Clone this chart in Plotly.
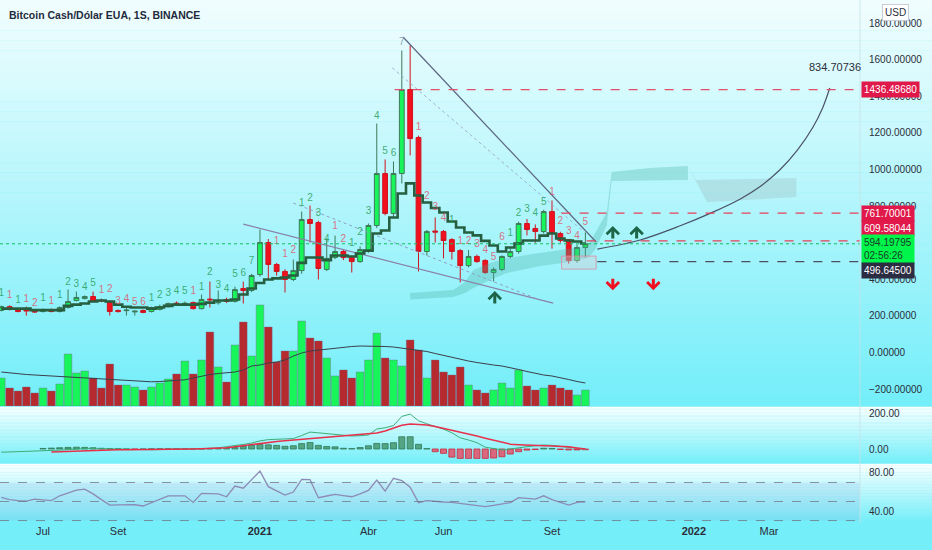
import plotly.graph_objects as go
import pandas as pd

# ---------------- data ----------------
start_week = "2020-06-01"
n_weeks = 71
dates = pd.date_range(start_week, periods=n_weeks, freq="7D")

opens = [230,251,235,232,226,224,235,224,246,284,295,306,286,279,230,229,222,230,224,235,
         251,270,265,273,240,292,272,290,279,350,339,426,601,481,443,399,448,727,710,454,
         519,552,525,497,552,694,978,760,978,1437,1175,552,664,661,617,557,475,525,503,437,
         454,525,552,705,678,661,770,650,617,503,574]
highs = [256,258,240,251,232,240,240,252,344,333,312,333,295,284,235,246,232,235,251,262,
         273,279,279,279,317,388,339,300,360,388,430,672,620,490,455,508,770,803,720,623,
         639,565,530,580,705,1251,1055,1044,1650,1678,1185,670,738,670,625,565,560,535,510,465,
         530,570,715,730,700,780,831,660,620,590,656]
lows = [225,230,220,202,218,219,220,219,240,280,290,275,275,202,218,202,202,215,219,230,
        246,257,255,235,235,246,262,270,273,268,330,415,399,420,328,390,430,601,399,445,
        510,505,437,490,545,680,750,740,924,1077,443,530,601,514,508,383,465,490,430,388,
        445,515,540,640,600,650,568,600,486,490,519]
closes = [251,235,224,228,222,235,224,246,279,301,306,279,283,224,224,232,226,219,246,251,
          268,266,269,240,290,288,276,279,344,339,421,601,481,443,399,448,727,705,459,514,
          552,519,497,563,694,978,760,978,1437,1169,552,661,658,612,552,475,525,497,437,454,
          525,552,705,672,661,770,650,612,503,574,594.19795]
volume_k = [280,180,150,190,130,180,150,220,520,330,350,280,180,420,210,210,190,160,190,230,
            270,320,450,320,460,740,390,240,610,840,500,1010,790,440,550,550,850,680,650,480,
            300,360,280,340,460,730,480,460,400,660,560,280,460,340,310,390,210,160,130,160,
            230,180,360,200,160,180,210,180,160,110,160]
volume_ma_k = [340,330,320,315,310,305,300,295,290,285,280,278,275,272,262,255,250,245,242,245,
               250,255,262,280,300,315,325,330,340,360,400,410,430,440,460,500,530,550,560,570,
               580,590,595,600,600,600,595,590,580,570,560,545,525,505,485,465,450,435,420,410,
               400,385,365,345,325,310,300,285,265,245,230]
trail_stop = [240,240,240,240,232,232,232,232,255,262,268,279,284,279,262,250,246,246,240,246,
              255,262,262,262,266,273,284,284,290,317,350,380,399,405,410,421,490,519,519,505,
              530,530,525,541,557,650,667,738,869,924,858,820,790,765,716,683,656,640,610,585,
              552,574,596,612,612,639,650,623,612,607,596]
macd_line = [-18,-17,-16,-15,-13,-10,-8,-6,-2,0,2,2,1,-2,-4,-5,-5,-5,-4,-3,
             -1,0,1,1,2,4,6,13,18,25,33,45,52,55,55,58,75,94,90,85,
             83,78,72,74,78,111,118,130,181,194,157,140,125,110,90,62,50,35,10,3,
             -5,0,8,13,18,22,20,15,8,2,-2]
macd_signal = [None,None,None,None,None,None,-17,-15,-13,-10,-8,-6,-5,-4,-4,-4,-4,-4,-4,-3,
               -2,-1,0,0,1,2,3,7,12,18,25,33,38,42,46,50,54,58,62,66,
               70,74,77,80,84,89,100,116,132,139,138,133,125,115,105,96,85,72,60,50,
               38,27,24,21,19,18,17,15,12,6,0]
macd_hist = [None,None,None,None,None,3,5,7,9,10,9,7,4,2,1,0,-1,0,1,1,
             1,1,1,0,1,2,3,4,8,14,20,25,23,20,15,18,30,36,20,14,
             12,4,2,8,18,31,30,35,68,68,26,2,-15,-24,-45,-52,-52,-52,-52,-50,
             -43,-28,-15,-6,-3,4,3,-3,-5,-5,-4]
rsi = [54.4,52,51,50.5,52.6,52,51,56,59,62,63,58,52,46.3,46.5,46.6,46.6,45.3,49,52,
       56,56,56,49,58.6,58.3,58,55,66.3,64,73,82,65.6,61,56.8,60,73.3,73,54,55.8,
       57.6,56.3,55,58,61.7,72.6,61,74.4,72,65,48.8,51,50,49.5,49,48,47,46.3,44.6,46,
       47.5,48.8,54,53,52.6,56,52,49,46.3,49,49.7]

# TD sequential counts: (candle index 1-based, text, colour key, label price)
td_idx = [1,2,3,4,5,6,7,8,9,10,11,12,13,14,15,16,17,18,19,20,21,22,23,24,25,26,27,28,29,30,31,
          34,35,36,37,38,39,40,41,42,43,44,45,46,47,48,49,51,52,53,54,55,56,57,58,59,60,61,
          62,63,64,65,66,67,68,69,70,71]
td_txt = ["1","1","1","1","2","1","1","1","2","3","4","5","1","2","3","4","5","6","1","2","3","4","5","1",
          "1","2","3","4","5","6","7","1","1","2","1","2","3","4","1","2","1","2","3","4","5","6","7",
          "1","2","3","4","1","1","2","3","4","5","6","1","2","3","4","5","1","2","3","4","5"]
td_col = ["g","r","g","r","r","g","r","g","g","g","g","g","r","r","r","r","r","r","g","g","g","g","g","r",
          "g","g","g","g","g","g","g","r","r","r","g","g","g","g","r","r","g","g","g","g","g","g","n",
          "r","r","r","r","g","r","r","r","r","r","r","g","g","g","g","g","r","r","r","r","r"]
td_price = [325,309,287,292,270,298,281,309,383,372,355,377,339,344,281,292,276,276,298,314,
            325,336,331,331,358,440,369,347,429,434,500,609,538,555,817,844,762,620,691,620,
            598,658,773,1292,1101,1090,1692,1232,855,790,730,719,609,609,593,560,522,626,
            653,762,779,762,822,874,716,661,634,710]

# horizontal levels and drawings
level_top = 1436.48680
level_r1 = 761.70001
level_r2 = 609.58044
last_price = 594.19795
level_s1 = 496.64500
trend_dark_x = ["2021-05-04", "2021-10-13"]; trend_dark_y = [1724, 604]
trend_thin_x = ["2021-04-25", "2021-10-03"]; trend_thin_y = [1555, 658]
trend_low_x = ["2020-12-21", "2021-09-07"]; trend_low_y = [702, 270]
trend_dot_x = ["2021-02-01", "2021-08-27"]; trend_dot_y = [817, 287]
curve_x = ["2021-10-14","2021-11-19","2021-12-22","2022-01-19","2022-02-11","2022-02-27",
           "2022-03-16","2022-03-31","2022-04-13","2022-04-21","2022-04-27"]
curve_y = [565,615,691,767,839,904,997,1107,1232,1336,1445]
cloud_a_x = ["2021-05-10","2021-06-15","2021-06-25","2021-07-02","2021-07-16","2021-07-30","2021-08-27",
             "2021-09-21","2021-10-06","2021-10-16","2021-10-22","2021-10-26","2021-11-27","2021-12-29",
             "2021-12-29","2021-10-26","2021-10-22","2021-10-12","2021-10-06","2021-09-21","2021-08-27",
             "2021-07-30","2021-07-16","2021-07-02","2021-06-25","2021-06-15","2021-05-10"]
cloud_a_y = [325,342,385,451,489,516,544,566,582,697,767,986,1008,1019,942,937,697,560,516,495,473,
             434,396,352,325,303,290]
cloud_b_x = ["2021-12-30","2022-01-05","2022-03-30","2022-03-30","2022-01-14"]
cloud_b_y = [1008,942,953,850,821]
box_x = ["2021-09-14", "2021-10-13"]; box_y = [456, 527]
up_arrows_x = ["2021-07-20", "2021-10-27", "2021-11-16"]; up_arrows_y = [336, 691, 691]
down_arrows_x = ["2021-10-27", "2021-11-30"]; down_arrows_y = [341, 341]
tick_dates = ["2020-07-06","2020-09-07","2021-01-04","2021-04-05","2021-06-07","2021-09-06","2022-01-03","2022-03-07"]
tick_text = ["Jul","Set","<b>2021</b>","Abr","Jun","Set","<b>2022</b>","Mar"]
price_ticks = [-200,0,200,400,800,1000,1200,1400,1600,1800]

# ---------------- layout geometry ----------------
W, H = 932, 550
R = 72
B = 27
PH = H - B
def dom(top, bot):
    return [(PH - bot) / PH, (PH - top) / PH]

FONT = "Liberation Sans"
GREEN = "#17f55a"
RED = "#f2101f"
x_range = ["2020-05-30 22:00", "2022-05-22 09:00"]

fig = go.Figure()

# volume (overlay axis)
vol_col = [GREEN if c >= o else "#b52a2e" for o, c in zip(opens, closes)]
fig.add_trace(go.Bar(x=dates, y=volume_k, marker=dict(color=vol_col, line=dict(color="rgba(120,100,140,0.55)", width=0.7)),
                     xaxis="x", yaxis="y4", hoverinfo="skip"))
fig.add_trace(go.Scatter(x=dates, y=volume_ma_k, mode="lines", line=dict(color="#3b3f4a", width=1),
                         xaxis="x", yaxis="y4", hoverinfo="skip"))

# cloud
fig.add_trace(go.Scatter(x=cloud_a_x, y=cloud_a_y, fill="toself", mode="lines", line=dict(width=0),
                         fillcolor="rgba(70,175,160,0.30)", xaxis="x", yaxis="y", hoverinfo="skip"))
fig.add_trace(go.Scatter(x=cloud_b_x, y=cloud_b_y, fill="toself", mode="lines", line=dict(width=0),
                         fillcolor="rgba(150,175,175,0.28)", xaxis="x", yaxis="y", hoverinfo="skip"))

# trend lines
fig.add_trace(go.Scatter(x=trend_low_x, y=trend_low_y, mode="lines", line=dict(color="#8a80a8", width=1.2), xaxis="x", yaxis="y"))
fig.add_trace(go.Scatter(x=trend_dot_x, y=trend_dot_y, mode="lines", line=dict(color="#8fa0c8", width=1, dash="dot"), xaxis="x", yaxis="y"))
fig.add_trace(go.Scatter(x=trend_thin_x, y=trend_thin_y, mode="lines", line=dict(color="#9fb0d0", width=1, dash="dot"), xaxis="x", yaxis="y"))
fig.add_trace(go.Scatter(x=trend_dark_x, y=trend_dark_y, mode="lines", line=dict(color="#5c6680", width=1.2), xaxis="x", yaxis="y"))
fig.add_trace(go.Scatter(x=curve_x, y=curve_y, mode="lines", line=dict(color="#4a5266", width=1.2, shape="spline"), xaxis="x", yaxis="y"))

# trailing step line
fig.add_trace(go.Scatter(x=dates, y=trail_stop, mode="lines", line=dict(color="#265f40", width=2.6, shape="hvh"), xaxis="x", yaxis="y"))

# candles
fig.add_trace(go.Candlestick(x=dates, open=opens, high=highs, low=lows, close=closes,
                             increasing=dict(line=dict(color="#3d7a5a", width=1), fillcolor=GREEN),
                             decreasing=dict(line=dict(color="#d0141f", width=1), fillcolor=RED),
                             whiskerwidth=0, xaxis="x", yaxis="y", hoverinfo="skip"))

# TD counts
cmap = {"g": "rgba(40,160,90,0.85)", "r": "rgba(225,80,100,0.8)", "n": "rgba(130,150,170,0.9)"}
fig.add_trace(go.Scatter(x=[dates[i - 1] for i in td_idx], y=td_price, mode="text", text=td_txt,
                         textfont=dict(family=FONT, size=10, color=[cmap[c] for c in td_col]),
                         xaxis="x", yaxis="y", hoverinfo="skip"))

# MACD
hist_col = ["rgba(70,150,110,0.85)" if (h or 0) >= 0 else "rgba(232,80,105,0.85)" for h in macd_hist]
hist_line = ["#2f7a55" if (h or 0) >= 0 else "#c8283e" for h in macd_hist]
fig.add_trace(go.Bar(x=dates, y=macd_hist, marker=dict(color=hist_col, line=dict(color=hist_line, width=0.8)),
                     width=6 * 86400000 * 0.84, xaxis="x2", yaxis="y2", hoverinfo="skip"))
fig.add_trace(go.Scatter(x=dates, y=macd_line, mode="lines", line=dict(color="#3cae78", width=1), xaxis="x2", yaxis="y2"))
fig.add_trace(go.Scatter(x=dates, y=macd_signal, mode="lines", line=dict(color="#e8304c", width=1.5), xaxis="x2", yaxis="y2"))

# RSI
fig.add_trace(go.Scatter(x=dates, y=rsi, mode="lines", line=dict(color="#8c8cb4", width=1.3), xaxis="x3", yaxis="y3"))

shapes = []
def gradient(top, bot, c0, c1, n=40):
    for k in range(n):
        t = k / (n - 1)
        col = tuple(int(round(c0[j] + (c1[j] - c0[j]) * t)) for j in range(3))
        y_top = top + (bot - top) * k / n
        y_bot = top + (bot - top) * (k + 1) / n
        shapes.append(dict(type="rect", xref="paper", yref="paper", x0=0, x1=W / (W - R),
                           y0=(PH - y_bot) / PH, y1=(PH - y_top) / PH + 0.0005,
                           fillcolor="rgb(%d,%d,%d)" % col, line=dict(width=0), layer="below"))
gradient(0, 406, (240, 253, 254), (116, 238, 249))
gradient(407, 463, (250, 255, 255), (118, 239, 249))
gradient(464, 523, (250, 255, 255), (116, 238, 249))

# RSI band and guides
shapes.append(dict(type="rect", xref="paper", yref="y3", x0=0, x1=1, y0=30, y1=70,
                   fillcolor="rgba(120,140,210,0.14)", line=dict(width=0), layer="below"))
for lv in (30, 50, 70):
    shapes.append(dict(type="line", xref="paper", yref="y3", x0=0, x1=1, y0=lv, y1=lv,
                       line=dict(color="rgba(110,115,130,0.75)", width=1, dash="dash")))
# price levels
shapes.append(dict(type="line", xref="paper", yref="y", x0=0, x1=1, y0=last_price, y1=last_price,
                   line=dict(color="#14c060", width=1, dash="dot")))
shapes.append(dict(type="line", xref="x", yref="y", x0="2021-04-27", x1="2022-07-01", y0=level_top, y1=level_top,
                   line=dict(color="#e0506a", width=1.2, dash="dash")))
shapes.append(dict(type="line", xref="x", yref="y", x0="2021-09-14", x1="2022-07-01", y0=level_r1, y1=level_r1,
                   line=dict(color="#e8405a", width=1.2, dash="dash")))
shapes.append(dict(type="line", xref="x", yref="y", x0="2021-10-05", x1="2022-07-01", y0=level_r2, y1=level_r2,
                   line=dict(color="#e8405a", width=1.2, dash="dash")))
shapes.append(dict(type="line", xref="x", yref="y", x0="2021-10-14", x1="2022-07-01", y0=level_s1, y1=level_s1,
                   line=dict(color="#4a4e5e", width=1.2, dash="dash")))
shapes.append(dict(type="rect", xref="x", yref="y", x0=box_x[0], x1=box_x[1], y0=box_y[0], y1=box_y[1],
                   fillcolor="rgba(220,200,210,0.35)", line=dict(color="rgba(220,140,160,0.8)", width=1)))
# right axis separator
shapes.append(dict(type="line", xref="paper", yref="paper", x0=1, x1=1, y0=0, y1=1,
                   line=dict(color="rgba(200,225,230,0.8)", width=1)))

annotations = []
annotations.append(dict(xref="paper", yref="paper", x=0.008, y=(PH - 15) / PH, xanchor="left", yanchor="middle",
                        text="<b>Bitcoin Cash/Dólar EUA, 1S, BINANCE</b>", showarrow=False,
                        font=dict(family=FONT, size=10.5, color="#1f2a3c")))
annotations.append(dict(xref="paper", yref="paper", x=895 / (W - R), y=(PH - 12) / PH, xanchor="center", yanchor="middle",
                        text="USD", showarrow=False, bgcolor="white", bordercolor="#c8ccd4", borderwidth=1, borderpad=2,
                        font=dict(family=FONT, size=10, color="#2a2e39")))
annotations.append(dict(xref="x", yref="y", x="2022-05-01", y=1560, text="834.70736", showarrow=False,
                        font=dict(family=FONT, size=11, color="#2a2e39")))

def price_label(yv, text, bg, fg):
    annotations.append(dict(xref="paper", yref="y", x=1.0 + 1 / (W - R), y=yv, xanchor="left", yanchor="middle",
                            text=text, showarrow=False, bgcolor=bg, borderpad=2, align="left",
                            font=dict(family=FONT, size=10, color=fg)))
price_label(level_top, "1436.48680", "#e0194a", "white")
price_label(level_r1, "761.70001", "#e0194a", "white")
price_label(680, "609.58044", "#e0194a", "white")
price_label(563, "594.19795<br>02:56:26", "#00f54a", "#1b3b2b")
price_label(451, "496.64500", "#2c2c42", "white")

for ax_, ay_ in zip(up_arrows_x, up_arrows_y):
    annotations.append(dict(xref="x", yref="y", x=ax_, y=ay_, ax=0, ay=14, text="", showarrow=True,
                            arrowhead=4, arrowsize=0.8, arrowwidth=3, arrowcolor="#1d6546", standoff=0))
for ax_, ay_ in zip(down_arrows_x, down_arrows_y):
    annotations.append(dict(xref="x", yref="y", x=ax_, y=ay_, ax=0, ay=-13, text="", showarrow=True,
                            arrowhead=4, arrowsize=0.8, arrowwidth=3, arrowcolor="#f01020", standoff=0))

axis_font = dict(family=FONT, size=10, color="#2a2e39")
fig.update_layout(
    width=W, height=H, margin=dict(l=0, r=R, t=0, b=B),
    paper_bgcolor="rgb(116,238,249)", plot_bgcolor="rgba(0,0,0,0)",
    showlegend=False, bargap=0.08, barmode="overlay", boxgap=0.18,
    shapes=shapes, annotations=annotations,
    xaxis=dict(domain=[0, 1], anchor="y", range=x_range, showgrid=False, zeroline=False, showticklabels=False,
               rangeslider=dict(visible=False), type="date"),
    xaxis2=dict(domain=[0, 1], anchor="y2", matches="x", showgrid=False, zeroline=False, showticklabels=False),
    xaxis3=dict(domain=[0, 1], anchor="y3", matches="x", showgrid=False, zeroline=False,
                tickvals=tick_dates, ticktext=tick_text, tickfont=dict(family=FONT, size=11, color="#2a2e39"), ticks=""),
    yaxis=dict(domain=dom(0, 406), range=[-292, 1926], side="right", tickvals=price_ticks, tickformat=".5f",
               showgrid=False, zeroline=False, ticks="outside", ticklen=6, tickcolor="rgba(0,0,0,0)", tickfont=axis_font),
    yaxis4=dict(domain=dom(0, 406), overlaying="y", range=[0, 4060], visible=False),
    yaxis2=dict(domain=dom(408, 463), range=[-77.8, 227.8], side="right", tickvals=[0, 200], tickformat=".2f",
                showgrid=False, zeroline=False, ticks="outside", ticklen=6, tickcolor="rgba(0,0,0,0)", tickfont=axis_font),
    yaxis3=dict(domain=dom(465, 523), range=[27.4, 88.4], side="right", tickvals=[40, 80], tickformat=".2f",
                showgrid=False, zeroline=False, ticks="outside", ticklen=6, tickcolor="rgba(0,0,0,0)", tickfont=axis_font),
)
fig.write_html("out.html", config={"displayModeBar": False},
               post_script="document.body.style.margin='0';document.body.style.overflow='hidden';")
